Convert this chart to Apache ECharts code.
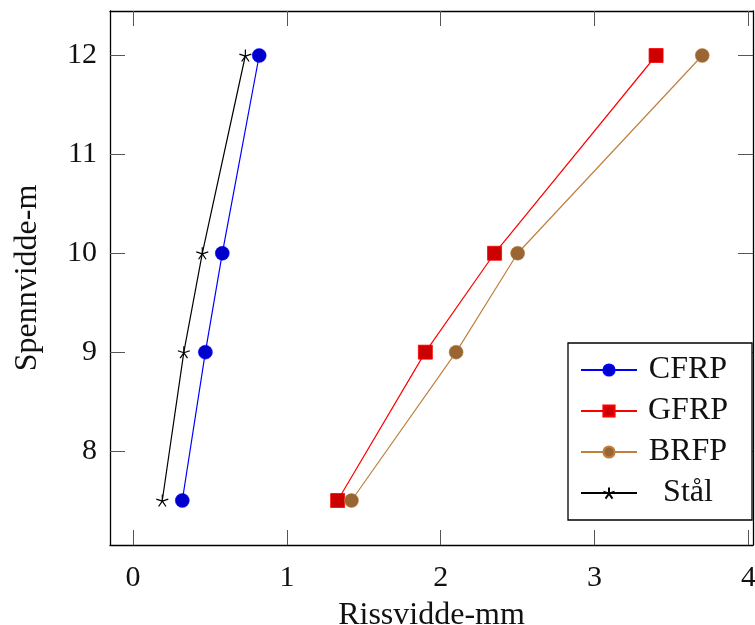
<!DOCTYPE html>
<html>
<head>
<meta charset="utf-8">
<script src="https://cdn.jsdelivr.net/npm/echarts@6/dist/echarts.min.js"></script>
<style>html,body{margin:0;padding:0;background:#fff;}#c{width:755px;height:625px;}</style>
</head>
<body>
<div id="c"></div>
<script>
const spans = [7.5, 9, 10, 12];
const cfrp = [0.32, 0.47, 0.58, 0.82];
const gfrp = [1.33, 1.90, 2.35, 3.40];
const brfp = [1.42, 2.10, 2.50, 3.70];
const staal = [0.19, 0.33, 0.45, 0.73];
const xTicks = [0, 1, 2, 3, 4];
const yTicks = [8, 9, 10, 11, 12];
const seriesNames = ['CFRP', 'GFRP', 'BRFP', 'Stål'];

const FONT = 'Liberation Serif';
const starPath = 'path://M50,50L50,0M50,50L97.55,34.55M50,50L79.39,90.45M50,50L20.61,90.45M50,50L2.45,34.55';

function pairs(xs) { return xs.map((x, i) => [x, spans[i]]); }

const chart = echarts.init(document.getElementById('c'));
const axisLineStyle = { color: '#000', width: 1.3 };
const tickStyle = { color: '#555', width: 1 };

chart.setOption({
  animation: false,
  backgroundColor: '#fff',
  grid: { left: 110, top: 11, right: 2, bottom: 80, containLabel: false, outerBoundsMode: 'none' },
  xAxis: [{
    type: 'value', min: -0.15, max: 4.03, position: 'bottom',
    name: 'Rissvidde-mm', nameLocation: 'middle', nameGap: 55,
    nameTextStyle: { fontFamily: FONT, fontSize: 32, color: '#111' },
    axisLine: { show: true, onZero: false, lineStyle: axisLineStyle },
    axisTick: { show: true, inside: true, length: 15, lineStyle: tickStyle, customValues: xTicks },
    axisLabel: { fontFamily: FONT, fontSize: 30, color: '#111', margin: 18, customValues: xTicks },
    splitLine: { show: false }
  }, {
    type: 'value', min: -0.15, max: 4.03, position: 'top',
    axisLine: { show: true, onZero: false, lineStyle: axisLineStyle },
    axisTick: { show: true, inside: true, length: 15, lineStyle: tickStyle, customValues: xTicks },
    axisLabel: { show: false },
    splitLine: { show: false }
  }],
  yAxis: [{
    type: 'value', min: 7.05, max: 12.45, position: 'left',
    name: 'Spennvidde-m', nameLocation: 'middle', nameGap: 66,
    nameTextStyle: { fontFamily: FONT, fontSize: 32, color: '#111' },
    axisLine: { show: true, onZero: false, lineStyle: axisLineStyle },
    axisTick: { show: true, inside: true, length: 15, lineStyle: tickStyle, customValues: yTicks },
    axisLabel: { fontFamily: FONT, fontSize: 30, color: '#111', margin: 13, customValues: yTicks },
    splitLine: { show: false }
  }, {
    type: 'value', min: 7.05, max: 12.45, position: 'right',
    axisLine: { show: true, onZero: false, lineStyle: axisLineStyle },
    axisTick: { show: true, inside: true, length: 15, lineStyle: tickStyle, customValues: yTicks },
    axisLabel: { show: false },
    splitLine: { show: false }
  }],
  legend: {
    orient: 'vertical', left: 568, top: 343,
    data: seriesNames,
    backgroundColor: '#fff', borderColor: '#000', borderWidth: 1.3,
    padding: [9, 22, 9, 12], itemGap: 5, itemWidth: 56, itemHeight: 14,
    formatter: name => '{c|' + name + '}',
    textStyle: {
      fontFamily: FONT, fontSize: 32, color: '#111', lineHeight: 36, padding: [0, 0, 0, 4],
      rich: { c: { width: 84, align: 'center', fontFamily: FONT, fontSize: 32, color: '#111', lineHeight: 36 } }
    }
  },
  series: [{
    name: seriesNames[0], type: 'line', data: pairs(cfrp),
    symbol: 'circle', symbolSize: 14,
    lineStyle: { color: '#0000ff', width: 1.2 },
    itemStyle: { color: '#0000cc', borderColor: '#0000ff', borderWidth: 0.5 }
  }, {
    name: seriesNames[1], type: 'line', data: pairs(gfrp),
    symbol: 'rect', symbolSize: 14,
    lineStyle: { color: '#ff0000', width: 1.2 },
    itemStyle: { color: '#cc0000', borderColor: '#ff0000', borderWidth: 0.8 }
  }, {
    name: seriesNames[2], type: 'line', data: pairs(brfp),
    symbol: 'circle', symbolSize: 14,
    lineStyle: { color: '#bf8040', width: 1.2 },
    itemStyle: { color: '#996633', borderColor: '#bf8040', borderWidth: 0.5 }
  }, {
    name: seriesNames[3], type: 'line', data: pairs(staal),
    symbol: starPath, symbolSize: 12,
    lineStyle: { color: '#000', width: 1.2 },
    itemStyle: { color: '#000', borderColor: '#000', borderWidth: 1.2 }
  }]
});
</script>
</body>
</html>
